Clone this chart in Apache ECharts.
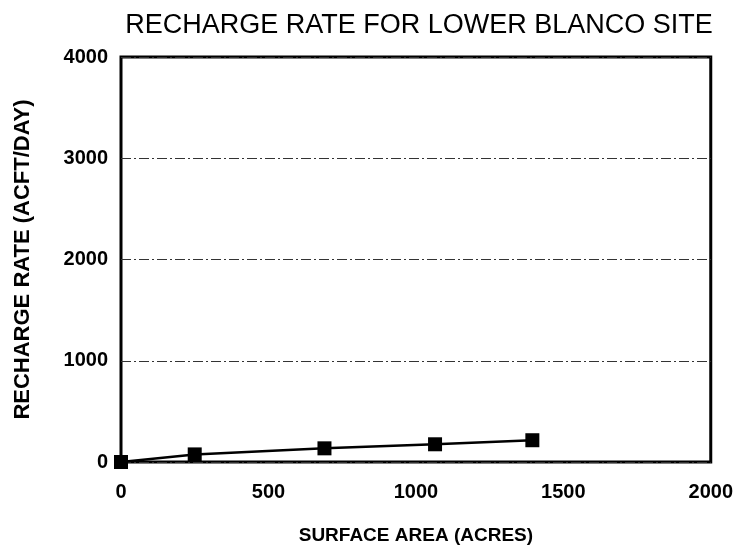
<!DOCTYPE html>
<html><head><meta charset="utf-8">
<script src="https://cdn.jsdelivr.net/npm/echarts@6/dist/echarts.min.js"></script>
<style>html,body{margin:0;padding:0;background:#fff}#c{width:736px;height:551px}</style>
</head><body><div id="c"></div>
<script>
const titleText = "RECHARGE RATE FOR LOWER BLANCO SITE";
const xName = "SURFACE AREA (ACRES)";
const yName = "RECHARGE RATE (ACFT/DAY)";
const surfaceArea = [0, 250, 690, 1065, 1395];
const rechargeRate = [0, 75, 135, 175, 215];

const chart = echarts.init(document.getElementById('c'));
chart.setOption({
  animation: false,
  backgroundColor: '#fff',
  title: {
    text: titleText, left: 414, top: 7, textAlign: 'center',
    textStyle: {fontFamily: 'Liberation Sans, Arial', fontSize: 27, fontWeight: 'normal', color: '#000'}
  },
  grid: {left: 121, right: 24, top: 57, bottom: 89, show: true, borderColor: '#000', borderWidth: 3, backgroundColor: 'transparent'},
  xAxis: {
    type: 'value', min: 0, max: 2000, interval: 500,
    name: xName, nameLocation: 'middle', nameGap: 64,
    nameTextStyle: {fontFamily: 'Liberation Sans, Arial', fontSize: 19, fontWeight: 'bold', color: '#000'},
    axisLine: {show: false}, axisTick: {show: false}, splitLine: {show: false},
    axisLabel: {margin: 20, formatter: v => String(v), fontFamily: 'Liberation Sans, Arial', fontSize: 20, fontWeight: 'bold', color: '#000'}
  },
  yAxis: {
    type: 'value', min: 0, max: 4000, interval: 1000,
    name: yName, nameLocation: 'middle', nameGap: 87,
    nameTextStyle: {fontFamily: 'Liberation Sans, Arial', fontSize: 22, fontWeight: 'bold', color: '#000'},
    axisLine: {show: false}, axisTick: {show: false},
    splitLine: {show: true, lineStyle: {color: '#333', width: 1, type: [10, 3, 2, 3]}},
    axisLabel: {margin: 13, formatter: v => String(v), fontFamily: 'Liberation Sans, Arial', fontSize: 20, fontWeight: 'bold', color: '#000'}
  },
  series: [{
    type: 'line',
    data: surfaceArea.map((x, i) => [x, rechargeRate[i]]),
    symbol: 'rect', symbolSize: 14,
    itemStyle: {color: '#000'},
    lineStyle: {color: '#000', width: 2.5},
    clip: false
  }]
});
</script></body></html>
